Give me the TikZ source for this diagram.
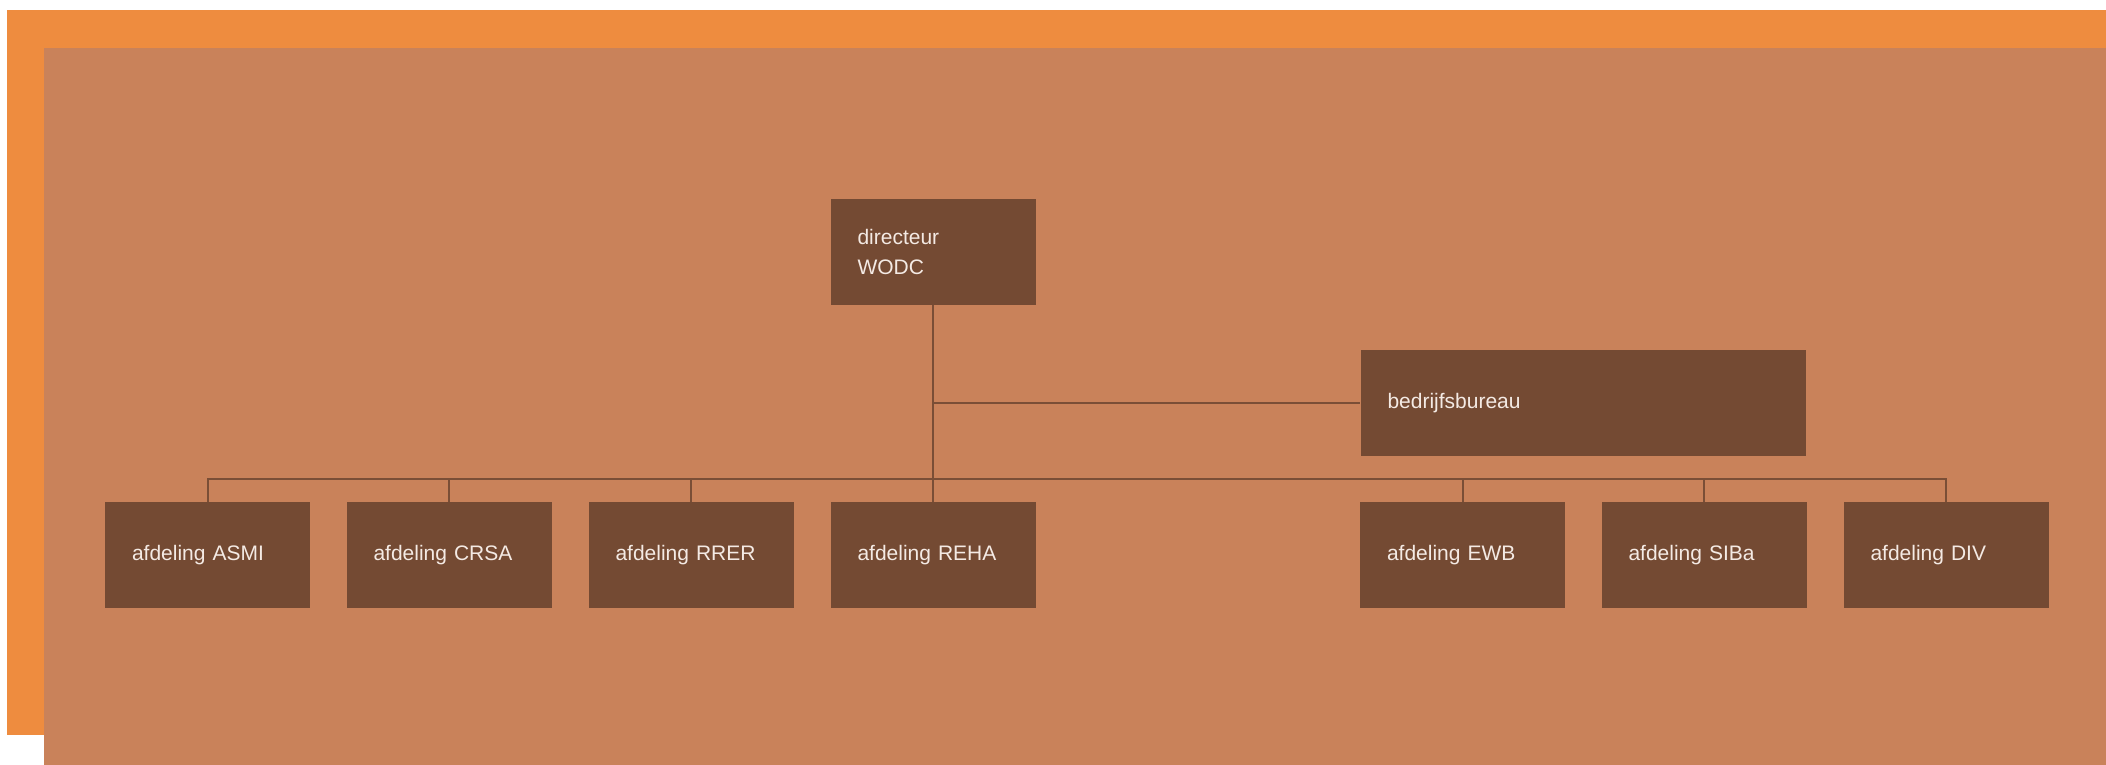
\documentclass[tikz,border=0pt]{standalone}
\usepackage{fontspec}
\setmainfont{Liberation Sans}
\usetikzlibrary{positioning}
\definecolor{frameorange}{HTML}{EE8C3F}
\definecolor{sheettan}{HTML}{C9825A}
\definecolor{boxbrown}{HTML}{744A33}
\definecolor{linebrown}{HTML}{7A4E36}
\definecolor{boxtext}{HTML}{F4EAE4}
\tikzset{
  orgbox/.style={rectangle,fill=boxbrown,text=boxtext,
    font=\fontsize{21}{30}\selectfont,align=left,
    text width=151pt,inner xsep=27pt,inner ysep=0pt,minimum height=106pt},
  orgline/.style={draw=linebrown,line width=2pt}
}
\begin{document}
\begin{tikzpicture}[x=1pt,y=-1pt]
\useasboundingbox (0,0) rectangle (2106,765);
\fill[white](0,0)rectangle(2106,765);
\fill[frameorange](7,10)rectangle(2106,735);
\fill[sheettan](44,48)rectangle(2106,765);
\node[orgbox] (dir) at (933,252) {directeur\\WODC};
\node[orgbox,text width=391pt] (bureau) at (1583,403) {bedrijfsbureau};
\node[orgbox] (asmi) at (207.5,555) {afdeling ASMI};
\node[orgbox] (crsa) at (449,555) {afdeling CRSA};
\node[orgbox] (rrer) at (691,555) {afdeling RRER};
\node[orgbox] (reha) at (933,555) {afdeling REHA};
\node[orgbox] (ewb) at (1462.5,555) {afdeling EWB};
\node[orgbox] (siba) at (1704,555) {afdeling SIBa};
\node[orgbox] (div) at (1946,555) {afdeling DIV};
\coordinate (bus) at (0,479);
\draw[orgline](dir.south)--(reha.north);
\draw[orgline](dir.south|-bureau.west)--(bureau.west);
\draw[orgline](asmi.north)|-(bus-|div.north)--(div.north);
\draw[orgline](crsa.north)--(crsa.north|-bus)(rrer.north)--(rrer.north|-bus)
(ewb.north)--(ewb.north|-bus)(siba.north)--(siba.north|-bus);
\end{tikzpicture}
\end{document}
